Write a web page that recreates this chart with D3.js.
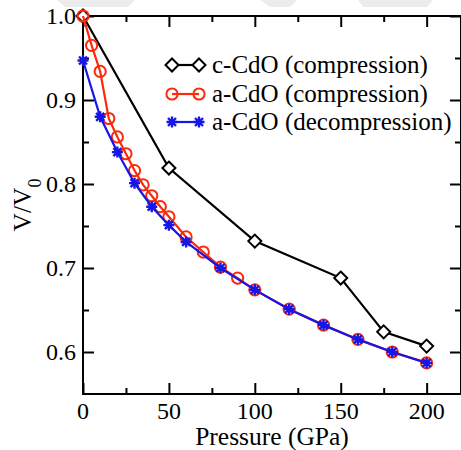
<!DOCTYPE html>
<html>
<head>
<meta charset="utf-8">
<script src="https://cdn.jsdelivr.net/npm/d3@7"></script>
<style>
  html, body { margin: 0; padding: 0; background: #fff; }
  svg { display: block; }
</style>
</head>
<body>
<svg id="chart" width="461" height="450"></svg>
<script>
// Relative volume V/V0 of CdO versus pressure (GPa)
const cPressure = [0, 50, 100, 150, 175, 200];
const cVolume   = [1.0, 0.819, 0.732, 0.688, 0.624, 0.607];

const aCompPressure = [0, 5, 10, 15, 20, 25, 30, 35, 40, 45, 50, 60, 70, 80, 90, 100, 120, 140, 160, 180, 200];
const aCompVolume   = [1.0, 0.965, 0.934, 0.878, 0.856, 0.836, 0.816, 0.799, 0.786, 0.773, 0.761, 0.737, 0.719, 0.701, 0.688, 0.674, 0.651, 0.632, 0.615, 0.600, 0.587];

const aDecPressure = [0, 10, 20, 30, 40, 50, 60, 80, 100, 120, 140, 160, 180, 200];
const aDecVolume   = [0.947, 0.880, 0.838, 0.801, 0.773, 0.751, 0.731, 0.700, 0.674, 0.651, 0.632, 0.615, 0.600, 0.587];

const seriesNames = ["c-CdO (compression)", "a-CdO (compression)", "a-CdO (decompression)"];
const xTicks = [0, 50, 100, 150, 200];
const xMinorTicks = [25, 75, 125, 175];
const yTicks = [0.6, 0.7, 0.8, 0.9, 1.0];
const yMinorTicks = [0.65, 0.75, 0.85, 0.95];
const xTitle = "Pressure (GPa)";

const serif = '"Liberation Serif"';
const svg = d3.select("#chart");
const plotLeft = 83, plotRight = 461, plotTop = 16, plotBottom = 394;

const x = d3.scaleLinear().domain([0, 220]).range([plotLeft, plotRight]);
const y = d3.scaleLinear().domain([0.55, 1.0]).range([plotBottom, plotTop]);

// faint background bands along the top edge
const bands = [
  [[57, 0], [135, 0], [128, 7], [65, 7]],
  [[260, 0], [297, 0], [290, 7], [270, 7]],
  [[358, 0], [433, 0], [427, 7], [363, 7]]
];
svg.append("g").selectAll("polygon").data(bands).join("polygon")
  .attr("points", d => d.map(p => p.join(",")).join(" "))
  .attr("fill", "#ececec");

// axes with inward ticks on all four sides
const majorLen = 11, minorLen = 6;
function tickAxis(axisFn, scale, values, len, translate) {
  const g = svg.append("g").attr("transform", translate)
    .call(axisFn(scale).tickValues(values).tickSize(-len).tickFormat(""));
  g.select(".domain").remove();
  g.selectAll(".tick line").attr("stroke", "#000").attr("stroke-width", 2);
  return g;
}
tickAxis(d3.axisBottom, x, xTicks, majorLen, `translate(0,${plotBottom})`);
tickAxis(d3.axisBottom, x, xMinorTicks, minorLen, `translate(0,${plotBottom})`);
tickAxis(d3.axisTop, x, xTicks, majorLen, `translate(0,${plotTop})`);
tickAxis(d3.axisTop, x, xMinorTicks, minorLen, `translate(0,${plotTop})`);
tickAxis(d3.axisLeft, y, yTicks, majorLen, `translate(${plotLeft},0)`);
tickAxis(d3.axisLeft, y, yMinorTicks, minorLen, `translate(${plotLeft},0)`);
tickAxis(d3.axisRight, y, yTicks, majorLen, `translate(${plotRight},0)`);
tickAxis(d3.axisRight, y, yMinorTicks, minorLen, `translate(${plotRight},0)`);

// tick labels
svg.append("g").selectAll("text").data(xTicks).join("text")
  .attr("x", d => x(d)).attr("y", 419)
  .attr("text-anchor", "middle").attr("font-size", 24).style("font-family", serif)
  .text(d => d);
svg.append("g").selectAll("text").data(yTicks).join("text")
  .attr("x", plotLeft - 7).attr("y", d => y(d) + 8)
  .attr("text-anchor", "end").attr("font-size", 24).style("font-family", serif)
  .text(d => d.toFixed(1));

// axis titles
svg.append("text").attr("x", (plotLeft + plotRight) / 2).attr("y", 445)
  .attr("text-anchor", "middle").attr("font-size", 25.5).style("font-family", serif)
  .text(xTitle);
const yTitle = svg.append("text")
  .attr("transform", `translate(31,${(plotTop + plotBottom) / 2}) rotate(-90)`)
  .attr("text-anchor", "middle").attr("font-size", 25.5).style("font-family", serif);
yTitle.append("tspan").text("V/V");
yTitle.append("tspan").attr("baseline-shift", "sub").attr("font-size", 18).text("0");

// frame
svg.append("rect").attr("x", plotLeft).attr("y", plotTop)
  .attr("width", plotRight - plotLeft).attr("height", plotBottom - plotTop)
  .attr("fill", "none").attr("stroke", "#000").attr("stroke-width", 2);

// marker shapes
const diamondPath = "M0,-6.5L6.5,0L0,6.5L-6.5,0Z";
const starPath = "M-5.5,0H5.5M0,-5.5V5.5M-4,-4L4,4M-4,4L4,-4";

const series = [
  { name: seriesNames[0], px: cPressure, py: cVolume, color: "#000000", marker: "diamond" },
  { name: seriesNames[1], px: aCompPressure, py: aCompVolume, color: "#fa2a0a", marker: "circle" },
  { name: seriesNames[2], px: aDecPressure, py: aDecVolume, color: "#1616e6", marker: "star" }
];

function drawMarker(g, type, color) {
  if (type === "diamond") {
    g.append("path").attr("d", diamondPath).attr("fill", "#fff")
      .attr("stroke", color).attr("stroke-width", 2);
  } else if (type === "circle") {
    g.append("circle").attr("r", 5.6).attr("fill", "none")
      .attr("stroke", color).attr("stroke-width", 2);
  } else {
    g.append("path").attr("d", starPath).attr("fill", "none")
      .attr("stroke", color).attr("stroke-width", 2.4);
  }
}

const line = d3.line().x(d => x(d[0])).y(d => y(d[1]));
const plot = svg.append("g");
series.forEach(s => {
  const pts = s.px.map((p, i) => [p, s.py[i]]);
  plot.append("path").datum(pts).attr("d", line)
    .attr("fill", "none").attr("stroke", s.color).attr("stroke-width", 2.2);
  pts.forEach(p => {
    const g = plot.append("g").attr("transform", `translate(${x(p[0])},${y(p[1])})`);
    drawMarker(g, s.marker, s.color);
  });
});

// legend
const legend = svg.append("g");
const legendRows = [65, 94, 122];
series.forEach((s, i) => {
  const ly = legendRows[i];
  legend.append("line").attr("x1", 172).attr("x2", 199).attr("y1", ly).attr("y2", ly)
    .attr("stroke", s.color).attr("stroke-width", 2.2);
  [172, 199].forEach(mx => {
    const g = legend.append("g").attr("transform", `translate(${mx},${ly})`);
    drawMarker(g, s.marker, s.color);
  });
  legend.append("text").attr("x", 212).attr("y", ly + 8)
    .attr("font-size", 25).style("font-family", serif).text(s.name);
});
</script>
</body>
</html>
